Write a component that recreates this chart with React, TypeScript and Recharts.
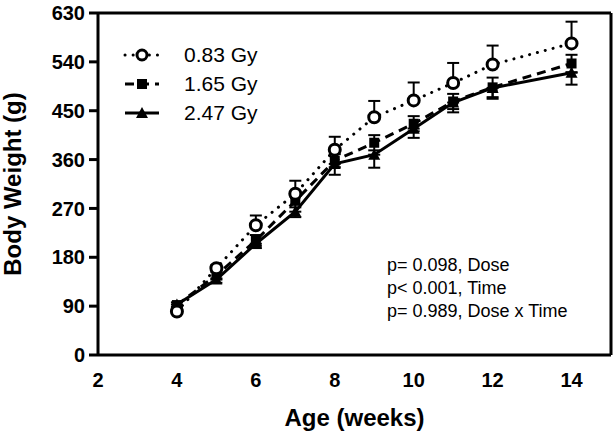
import React from "react";
import { LineChart, Line, XAxis, YAxis, ErrorBar, ReferenceLine, Legend, Label } from "recharts";

// weeks of age
const weeks = [4, 5, 6, 7, 8, 9, 10, 11, 12, 14];

// mean body weight (g) and SEM per dose group
const gy083 = [80, 160, 239, 297, 378, 438, 469, 501, 535, 574];
const gy083Err = [4, 6, 18, 24, 24, 30, 33, 37, 35, 40];
const gy165 = [92, 147, 211, 284, 358, 391, 426, 467, 493, 537];
const gy165Err = [5, 6, 10, 12, 12, 14, 14, 14, 18, 16];
const gy247 = [93, 139, 205, 264, 352, 369, 417, 465, 492, 520];
const gy247Err = [4, 6, 8, 10, 20, 24, 17, 18, 20, 22];

const yTicks = [0, 90, 180, 270, 360, 450, 540, 630];
const xTicks = [2, 3, 4, 5, 6, 7, 8, 9, 10, 11, 12, 13, 14, 15];

const stats = ["p= 0.098, Dose", "p< 0.001, Time", "p= 0.989, Dose x Time"];

const FONT = '"Liberation Sans", Arial, sans-serif';

// circle: error bars drawn upward only, triangle downward only, square both ways
const data = weeks.map((w, i) => ({
  week: w,
  a: gy083[i],
  aErr: [0, gy083Err[i]],
  b: gy165[i],
  bErr: [gy165Err[i], gy165Err[i]],
  c: gy247[i],
  cErr: [gy247Err[i], 0],
}));

const CircleDot = (p: any) => (
  <circle key={p.key} cx={p.cx} cy={p.cy} r={5.5} fill="#fff" stroke="#000" strokeWidth={3} />
);
const SquareDot = (p: any) => (
  <rect key={p.key} x={p.cx - 5} y={p.cy - 5} width={10} height={10} fill="#000" />
);
const TriangleDot = (p: any) => (
  <path key={p.key} d={`M${p.cx},${p.cy - 6}L${p.cx + 6},${p.cy + 5}L${p.cx - 6},${p.cy + 5}Z`} fill="#000" />
);

const legendItems = [
  { label: "0.83 Gy", dash: "0.1 8", marker: "circle" },
  { label: "1.65 Gy", dash: "9 6", marker: "square" },
  { label: "2.47 Gy", dash: undefined, marker: "triangle" },
];

function LegendBox() {
  return (
    <div style={{ fontFamily: FONT, fontSize: 21, color: "#000" }}>
      {legendItems.map((it) => (
        <div key={it.label} style={{ display: "flex", alignItems: "center", height: 29 }}>
          <svg width={40} height={20} style={{ marginRight: 22 }}>
            <line x1={3} x2={37} y1={10} y2={10} stroke="#000" strokeWidth={3} strokeDasharray={it.dash} strokeLinecap={it.marker === "circle" ? "round" : "butt"} />
            {it.marker === "circle" && <circle cx={20} cy={10} r={5} fill="#fff" stroke="#000" strokeWidth={3} />}
            {it.marker === "square" && <rect x={15} y={5} width={10} height={10} fill="#000" />}
            {it.marker === "triangle" && <path d="M20,4L26,15L14,15Z" fill="#000" />}
          </svg>
          <span>{it.label}</span>
        </div>
      ))}
    </div>
  );
}

const XTick = (p: any) => {
  const { x, y, payload, tickSize, tickMargin } = p;
  const axisY = y - tickMargin - tickSize;
  const major = payload.value % 2 === 0;
  return (
    <g>
      <line x1={x} x2={x} y1={axisY} y2={axisY + (major ? tickSize : 5)} stroke="#000" strokeWidth={3} />
      {major && (
        <text x={x} y={y} dy="0.71em" textAnchor="middle" fontFamily={FONT} fontSize={20} fontWeight="bold" fill="#000">
          {payload.value}
        </text>
      )}
    </g>
  );
};

export default function App() {
  return (
    <div style={{ position: "absolute", left: 0, top: 0, width: 615, height: 432, background: "#fff" }}>
      <LineChart width={615} height={432} data={data} margin={{ top: 13, right: 4, left: 0, bottom: 0 }}>
        <XAxis
          dataKey="week"
          type="number"
          domain={[2, 15]}
          ticks={xTicks}
          interval={0}
          height={77}
          tickSize={8}
          tickMargin={10}
          tickLine={false}
          tick={<XTick />}
          axisLine={{ stroke: "#000", strokeWidth: 3 }}
        >
          <Label value="Age (weeks)" position="insideBottom" offset={6} style={{ fontFamily: FONT, fontSize: 24, fontWeight: "bold", fill: "#000" }} />
        </XAxis>
        <YAxis
          type="number"
          domain={[0, 630]}
          ticks={yTicks}
          interval={0}
          width={98}
          tickSize={9}
          tickMargin={4}
          tick={{ fontFamily: FONT, fontSize: 20, fontWeight: "bold", fill: "#000" }}
          tickLine={{ stroke: "#000", strokeWidth: 3 }}
          axisLine={{ stroke: "#000", strokeWidth: 3 }}
        >
          <Label value="Body Weight (g)" angle={-90} position="insideLeft" offset={12} style={{ textAnchor: "middle", fontFamily: FONT, fontSize: 24, fontWeight: "bold", fill: "#000" }} />
        </YAxis>
        <ReferenceLine y={630} stroke="#000" strokeWidth={3} />
        <ReferenceLine x={15} stroke="#000" strokeWidth={3} />
        <Legend
          layout="vertical"
          align="center"
          verticalAlign="middle"
          content={<LegendBox />}
          wrapperStyle={{ left: 122, top: 40, width: "auto" }}
        />
        <Line dataKey="c" name="2.47 Gy" stroke="#000" strokeWidth={3} dot={TriangleDot} isAnimationActive={false}>
          <ErrorBar dataKey="cErr" direction="y" width={6} stroke="#000" strokeWidth={2} />
        </Line>
        <Line dataKey="b" name="1.65 Gy" stroke="#000" strokeWidth={3} strokeDasharray="9 6" dot={SquareDot} isAnimationActive={false}>
          <ErrorBar dataKey="bErr" direction="y" width={6} stroke="#000" strokeWidth={2} />
        </Line>
        <Line dataKey="a" name="0.83 Gy" stroke="#000" strokeWidth={3} strokeDasharray="0.1 8" strokeLinecap="round" dot={CircleDot} isAnimationActive={false}>
          <ErrorBar dataKey="aErr" direction="y" width={6} stroke="#000" strokeWidth={2} />
        </Line>
      </LineChart>
      <div style={{ position: "absolute", left: 387, top: 254, fontFamily: FONT, fontSize: 18, lineHeight: "23px", color: "#000", whiteSpace: "nowrap" }}>
        {stats.map((s) => (
          <div key={s}>{s}</div>
        ))}
      </div>
    </div>
  );
}
